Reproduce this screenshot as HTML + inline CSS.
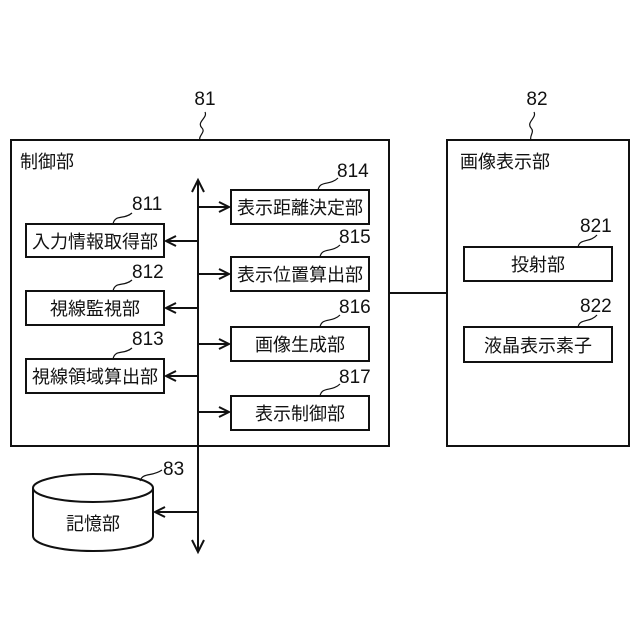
<!DOCTYPE html>
<html><head><meta charset="utf-8"><style>
html,body{margin:0;padding:0;background:#fff;}
svg{display:block;}
text{font-family:"Liberation Sans","Noto Sans CJK JP",sans-serif;fill:#111;}
</style></head><body>
<svg width="640" height="640" viewBox="0 0 640 640" xmlns="http://www.w3.org/2000/svg">
<g fill="none" stroke="#111" stroke-width="2">
<rect x="11" y="140" width="378" height="306"/>
<rect x="447" y="140" width="182" height="306"/>
<line x1="389" y1="293" x2="447" y2="293"/>
<rect x="26" y="224" width="138" height="33"/>
<rect x="26" y="291" width="138" height="34"/>
<rect x="26" y="359" width="138" height="34"/>
<rect x="231" y="190" width="138" height="34"/>
<rect x="231" y="257" width="138" height="34"/>
<rect x="231" y="327" width="138" height="34"/>
<rect x="231" y="396" width="138" height="34"/>
<rect x="464" y="247" width="148" height="34"/>
<rect x="464" y="327" width="148" height="35"/>
<line x1="198" y1="182" x2="198" y2="550"/>
<path d="M192 192 L198 180 L204 192 M192 540 L198 552 L204 540"/>
<path d="M198 241 H166 M176 236 L166 241 L176 246"/>
<path d="M198 308 H166 M176 303 L166 308 L176 313"/>
<path d="M198 376 H166 M176 371 L166 376 L176 381"/>
<path d="M198 512 H155 M165 507 L155 512 L165 517"/>
<path d="M198 207 H229 M219 202 L229 207 L219 212"/>
<path d="M198 274 H229 M219 269 L229 274 L219 279"/>
<path d="M198 344 H229 M219 339 L229 344 L219 349"/>
<path d="M198 412 H229 M219 407 L229 412 L219 417"/>
<path d="M33 488 V536 A60 15 0 0 0 153 536 V488"/>
<ellipse cx="93" cy="488" rx="60" ry="14"/>
</g>
<g fill="none" stroke="#111" stroke-width="1.2">
<path d="M205 112 C208 118,196 122,202 128 C206 132,198 136,200 140"/>
<path d="M534 112 C537 118,526 122,531 128 C535 132,529 136,531 140"/>
<path d="M113 224 C115 214,124 220,132 213"/>
<path d="M113 291 C115 281,124 287,132 280"/>
<path d="M113 359 C115 349,124 355,132 348"/>
<path d="M318 190 C320 180,330 186,338 178"/>
<path d="M320 257 C322 247,332 253,340 245"/>
<path d="M320 327 C322 317,332 323,340 315"/>
<path d="M320 396 C322 386,332 392,340 384"/>
<path d="M578 247 C580 238,590 243,597 235"/>
<path d="M578 327 C580 318,590 323,597 315"/>
<path d="M140 481 C143 472,152 477,162 470"/>
</g>
<g font-size="19">
<text x="205" y="105" text-anchor="middle">81</text>
<text x="537" y="105" text-anchor="middle">82</text>
<text x="132" y="210">811</text>
<text x="132" y="278">812</text>
<text x="132" y="345">813</text>
<text x="337" y="177">814</text>
<text x="339" y="243">815</text>
<text x="339" y="313">816</text>
<text x="339" y="383">817</text>
<text x="580" y="232">821</text>
<text x="580" y="312">822</text>
<text x="163" y="475">83</text>
</g>
<g font-size="18">
<text x="20" y="168">制御部</text>
<text x="460" y="168">画像表示部</text>
<text x="95" y="248" text-anchor="middle">入力情報取得部</text>
<text x="95" y="315" text-anchor="middle">視線監視部</text>
<text x="95" y="383" text-anchor="middle">視線領域算出部</text>
<text x="300" y="214" text-anchor="middle">表示距離決定部</text>
<text x="300" y="281" text-anchor="middle">表示位置算出部</text>
<text x="300" y="351" text-anchor="middle">画像生成部</text>
<text x="300" y="420" text-anchor="middle">表示制御部</text>
<text x="538" y="271" text-anchor="middle">投射部</text>
<text x="538" y="352" text-anchor="middle">液晶表示素子</text>
<text x="93" y="530" text-anchor="middle">記憶部</text>
</g>
</svg>
</body></html>
